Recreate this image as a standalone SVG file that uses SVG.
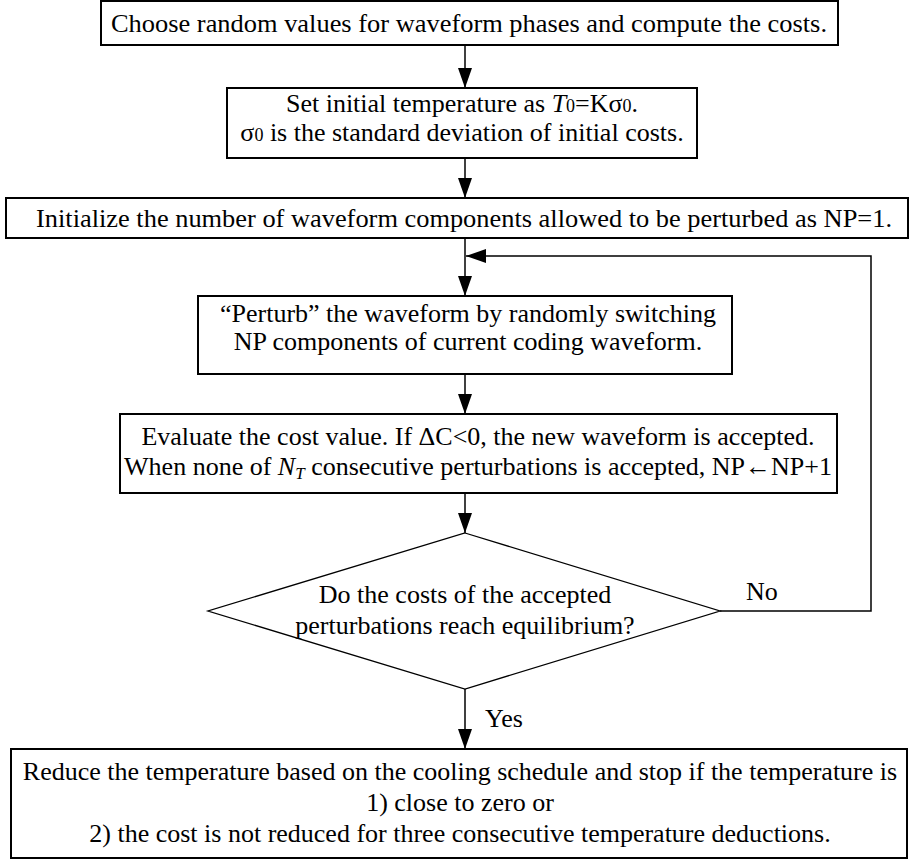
<svg xmlns="http://www.w3.org/2000/svg" width="914" height="860" viewBox="0 0 914 860">
<defs>
<marker id="ah" markerWidth="20" markerHeight="14" refX="20" refY="7" orient="auto" markerUnits="userSpaceOnUse">
<path d="M0,0 L20,7 L0,14 Z" fill="#000"/>
</marker>
<style>
.box{fill:#fff;stroke:#000;stroke-width:2}
.dia{fill:#fff;stroke:#000;stroke-width:1.3}
.t{font-family:"Liberation Serif","Times New Roman",serif;font-size:26px;fill:#000;text-anchor:middle}
.l{font-family:"Liberation Serif","Times New Roman",serif;font-size:26px;fill:#000}
.e{stroke:#000;stroke-width:1.5;fill:none}
</style>
</defs>
<rect width="914" height="860" fill="#fff"/>
<g id="connectors">
<line class="e" x1="465" y1="45" x2="465" y2="88" marker-end="url(#ah)"/>
<line class="e" x1="465" y1="158" x2="465" y2="198" marker-end="url(#ah)"/>
<line class="e" x1="465" y1="238" x2="465" y2="296" marker-end="url(#ah)"/>
<line class="e" x1="465" y1="374" x2="465" y2="414" marker-end="url(#ah)"/>
<line class="e" x1="465" y1="493" x2="465" y2="533" marker-end="url(#ah)"/>
<line class="e" x1="465" y1="689" x2="465" y2="749" marker-end="url(#ah)"/>
<polyline class="e" points="720,611 871,611 871,256 466,256" marker-end="url(#ah)"/>
<text class="l" x="746" y="600">No</text>
<text class="l" x="485" y="727">Yes</text>
</g>
<g id="n1">
<rect class="box" x="101" y="1" width="737" height="44"/>
<text class="t" x="469" y="32" textLength="716" lengthAdjust="spacingAndGlyphs">Choose random values for waveform phases and compute the costs.</text>
</g>
<g id="n2">
<rect class="box" x="227" y="88" width="470" height="70"/>
<text class="t" x="462" y="112">Set initial temperature as <tspan font-style="italic">T</tspan><tspan font-size="18">0</tspan>=Kσ<tspan font-size="18">0</tspan>.</text>
<text class="t" x="462" y="141">σ<tspan font-size="18">0</tspan> is the standard deviation of initial costs.</text>
</g>
<g id="n3">
<rect class="box" x="6" y="198" width="902" height="40"/>
<text class="t" x="464" y="227" textLength="856" lengthAdjust="spacingAndGlyphs">Initialize the number of waveform components allowed to be perturbed as NP=1.</text>
</g>
<g id="n4">
<rect class="box" x="198" y="296" width="534" height="78"/>
<text class="t" x="468" y="322">“Perturb” the waveform by randomly switching</text>
<text class="t" x="468" y="350">NP components of current coding waveform.</text>
</g>
<g id="n5">
<rect class="box" x="120" y="414" width="717" height="79"/>
<text class="t" x="478" y="445">Evaluate the cost value. If ΔC&lt;0, the new waveform is accepted.</text>
<text class="t" x="478" y="475">When none of <tspan font-style="italic">N</tspan><tspan font-style="italic" font-size="17" dy="4">T</tspan><tspan dy="-4"> consecutive perturbations is accepted, NP←NP+1</tspan></text>
</g>
<g id="n6">
<polygon class="dia" points="465,533 720,611 465,689 208,611"/>
<text class="t" x="465" y="603">Do the costs of the accepted</text>
<text class="t" x="465" y="634">perturbations reach equilibrium?</text>
</g>
<g id="n7">
<rect class="box" x="11" y="749" width="896" height="109"/>
<text class="t" x="460" y="780">Reduce the temperature based on the cooling schedule and stop if the temperature is</text>
<text class="t" x="460" y="811">1) close to zero or</text>
<text class="t" x="460" y="842">2) the cost is not reduced for three consecutive temperature deductions.</text>
</g>
</svg>
